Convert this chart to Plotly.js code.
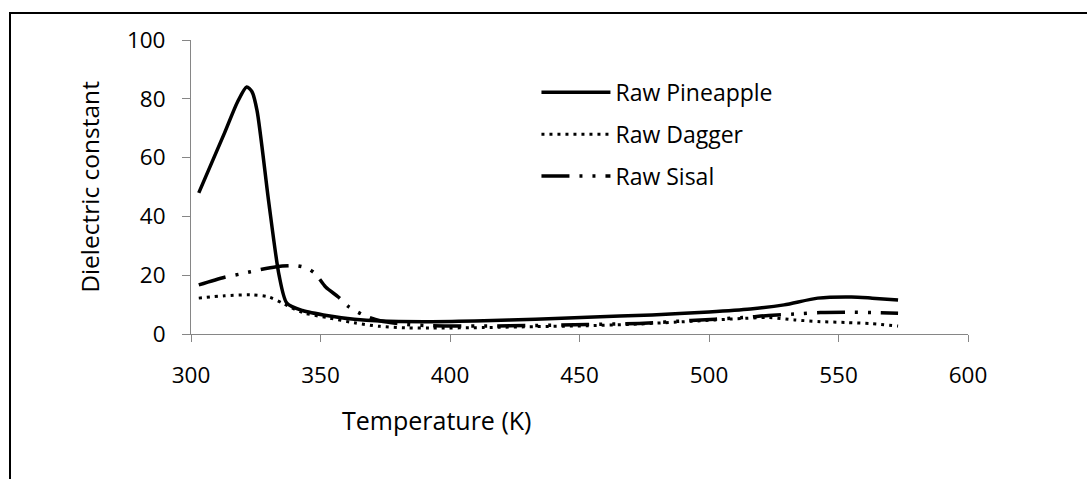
<!DOCTYPE html>
<html>
<head>
<meta charset="utf-8">
<script src="https://cdn.plot.ly/plotly-3.0.1.min.js"></script>
<style>
html,body{margin:0;padding:0;background:#fff;}
#chart{width:1087px;height:479px;}
</style>
</head>
<body>
<div id="chart"></div>
<script>
// Temperature (K) and dielectric constant values
const pineappleT = [303, 313, 318, 321.5, 323.5, 325.5, 330, 334, 337, 343, 353, 363, 373, 393, 413, 433, 453, 478, 500, 516, 529, 542, 555, 563, 573];
const pineappleV = [48, 68.5, 79, 84, 82.5, 76, 45, 20, 10.5, 8, 6.2, 5, 4.4, 4.2, 4.5, 5.0, 5.7, 6.5, 7.5, 8.5, 9.9, 12.2, 12.6, 12.2, 11.6];

const daggerT = [303, 313, 323, 330, 336, 343, 353, 363, 373, 383, 393, 413, 433, 453, 473, 493, 513, 523, 533, 543, 553, 563, 573];
const daggerV = [12.2, 13.0, 13.3, 12.6, 10.2, 7.3, 5.5, 3.8, 2.6, 2.1, 2.0, 2.2, 2.5, 2.8, 3.4, 4.3, 5.3, 5.6, 4.8, 4.2, 3.9, 3.5, 2.7];

const sisalT = [303, 313, 319, 323, 333, 341, 345, 348, 352, 357, 361, 367, 373, 383, 393, 413, 433, 453, 473, 493, 513, 523, 533, 543, 553, 563, 573];
const sisalV = [16.7, 19.3, 20.4, 21.2, 22.9, 23.2, 22.3, 20.5, 16, 12.5, 9.2, 6.3, 4.5, 3.3, 2.8, 2.7, 2.9, 3.2, 3.6, 4.6, 5.6, 6.3, 6.8, 7.3, 7.4, 7.3, 7.1];

const seriesNames = ["Raw Pineapple", "Raw Dagger", "Raw Sisal"];
const xTitle = "Temperature (K)";
const yTitle = "Dielectric constant";

const FONT = "Open Sans, Noto Sans, sans-serif";
const AXIS_GRAY = "#868686";

const traces = [
  {x: pineappleT, y: pineappleV, name: seriesNames[0], legendgroup: "a", mode: "lines",
   line: {color: "#000", width: 3.5, shape: "spline", smoothing: 0.7}},
  {x: daggerT, y: daggerV, name: seriesNames[1], legendgroup: "b", mode: "lines",
   line: {color: "#000", width: 3, dash: "3px,5px", shape: "spline", smoothing: 0.8}},
  {x: sisalT, y: sisalV, name: seriesNames[2], legendgroup: "c", mode: "lines",
   line: {color: "#000", width: 3.5, dash: "28px,10px,3px,10px,3px,10px", shape: "spline", smoothing: 0.8}}
];

const layout = {
  width: 1087, height: 479,
  margin: {l: 191, r: 119, t: 40, b: 145},
  paper_bgcolor: "#fff", plot_bgcolor: "#fff",
  font: {family: FONT, size: 22.5, color: "#000"},
  showlegend: true,
  legend: {x: 0.4446, xanchor: "left", y: 0.895, yanchor: "top",
           font: {family: FONT, size: 23, color: "#000"},
           itemwidth: 69, traceorder: "grouped", tracegroupgap: 9,
           bgcolor: "rgba(0,0,0,0)"},
  xaxis: {range: [300, 600], dtick: 50, tick0: 300, showgrid: false, zeroline: false,
          showline: true, linecolor: AXIS_GRAY, linewidth: 1,
          ticks: "outside", ticklen: 7, tickcolor: AXIS_GRAY, tickwidth: 1,
          ticklabelstandoff: 14,
          tickfont: {family: FONT, size: 22.5, color: "#000"}},
  yaxis: {range: [0, 100], dtick: 20, tick0: 0, showgrid: false, zeroline: false,
          showline: true, linecolor: AXIS_GRAY, linewidth: 1,
          ticks: "outside", ticklen: 8, tickcolor: AXIS_GRAY, tickwidth: 1,
          ticklabelstandoff: 12,
          tickfont: {family: FONT, size: 22.5, color: "#000"},
          title: {text: yTitle, font: {family: FONT, size: 24.5, color: "#000"}, standoff: 20}},
  annotations: [{text: xTitle, xref: "paper", yref: "paper",
                 x: (436 - 191) / 777, y: (334 - 420) / 294,
                 xanchor: "center", yanchor: "middle", showarrow: false,
                 font: {family: FONT, size: 25, color: "#000"}}],
  shapes: [{type: "rect", xref: "paper", yref: "paper",
            x0: (10 - 191) / 777, x1: 1.2, y0: -0.6, y1: (334 - 13) / 294,
            line: {color: "#000", width: 2}, fillcolor: "rgba(0,0,0,0)", layer: "above"}]
};

Plotly.newPlot("chart", traces, layout, {displayModeBar: false, staticPlot: true});
</script>
</body>
</html>
